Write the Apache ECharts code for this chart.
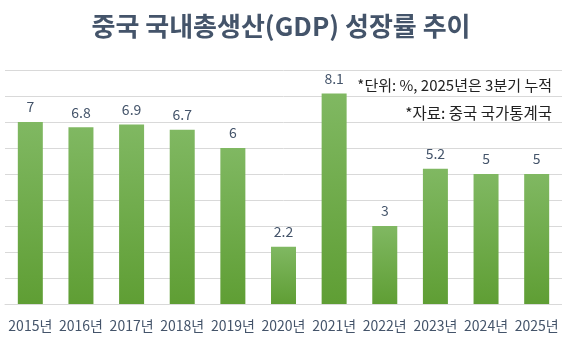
<!DOCTYPE html>
<html><head><meta charset="utf-8">
<script src="https://cdn.jsdelivr.net/npm/echarts@6/dist/echarts.min.js"></script>
<style>html,body{margin:0;padding:0;background:#fff}#c{width:562px;height:342px}</style>
</head><body><div id="c"></div>
<script>
const categories = ['2015년','2016년','2017년','2018년','2019년','2020년','2021년','2022년','2023년','2024년','2025년'];
const growth = [7, 6.8, 6.9, 6.7, 6, 2.2, 8.1, 3, 5.2, 5, 5];
const titleText = '중국 국내총생산(GDP) 성장률 추이';
const noteLines = ['*단위: %, 2025년은 3분기 누적', '*자료: 중국 국가통계국'];

const font = '"Noto Sans CJK KR", "Noto Sans", sans-serif';
const chart = echarts.init(document.getElementById('c'));
chart.setOption({
  animation: false,
  title: {
    text: titleText, left: 'center', top: 8,
    textStyle: {fontFamily: font, fontSize: 26, fontWeight: 'bold', color: '#44546a'}
  },
  graphic: [
    {type: 'text', right: 10, top: 78, style: {text: noteLines[0], font: '15px ' + font, fill: '#222', textAlign: 'right'}},
    {type: 'text', right: 10, top: 105, style: {text: noteLines[1], font: '15.5px ' + font, fill: '#222', textAlign: 'right'}}
  ],
  grid: {left: 5, top: 70, width: 563, height: 234, containLabel: false},
  xAxis: {
    type: 'category', data: categories,
    axisLine: {show: true, lineStyle: {color: '#d9d9d9'}},
    axisTick: {show: false},
    axisLabel: {fontFamily: font, fontSize: 14, color: '#44546a', margin: 15, interval: 0}
  },
  yAxis: {
    type: 'value', min: 0, max: 9, interval: 1,
    axisLabel: {show: false}, axisLine: {show: false}, axisTick: {show: false},
    splitLine: {lineStyle: {color: '#d9d9d9', width: 1}}
  },
  series: [{
    type: 'bar', data: growth, barWidth: 25,
    itemStyle: {color: new echarts.graphic.LinearGradient(0, 0, 0, 1, [
      {offset: 0, color: '#80b862'}, {offset: 1, color: '#5f9e34'}])},
    label: {show: true, position: 'top', distance: 8, fontFamily: font, fontSize: 14, color: '#44546a'}
  }]
});
</script></body></html>
